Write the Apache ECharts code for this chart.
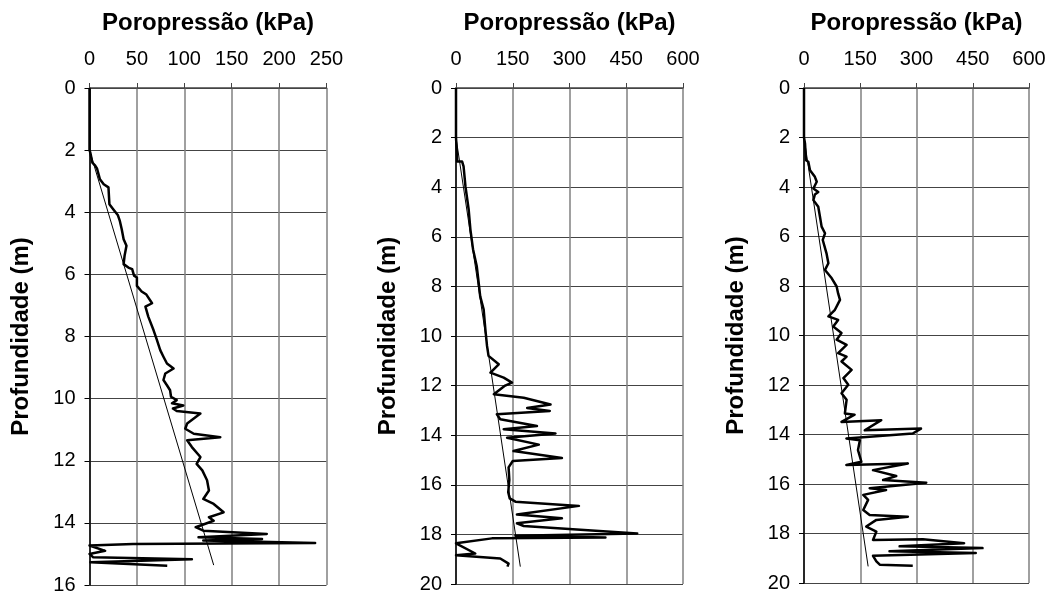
<!DOCTYPE html>
<html>
<head>
<meta charset="utf-8">
<script src="https://cdn.jsdelivr.net/npm/echarts@6/dist/echarts.min.js"></script>
<style>
html,body{margin:0;padding:0;background:#fff;}
#chart{width:1051px;height:597px;}
</style>
</head>
<body>
<div id="chart"></div>
<script>
// ---- Panel 1 (0-250 kPa, 0-16 m) ----
const p1Pressure = [0,0,1,3,6,8,11,15,20,21,25,30,32,34,36,39,37,36,41,45,47,50,50,55,60,66,59,62,67.6,71,74.6,78,81.7,88.7,80,78,81.7,85,86,92,87,99,88,92,117,103,101,110,138,103,108,117,113,119,124,126,120,131,141.5,126,131,112,120,187,115,182,120,238,46,0,16.5,0,4,108,1,82];
const p1Depth    = [0,2.0,2.1,2.4,2.5,2.6,2.94,3.1,3.2,3.74,3.9,4.1,4.28,4.55,4.87,5.08,5.4,5.67,5.78,5.83,6.04,6.1,6.37,6.55,6.65,6.93,7.04,7.36,7.8,8.1,8.44,8.65,8.87,9.03,9.19,9.4,9.57,9.73,9.94,10.05,10.15,10.22,10.32,10.4,10.48,10.8,10.97,11.13,11.24,11.34,11.56,11.88,12.1,12.31,12.63,12.96,13.23,13.39,13.66,13.82,13.93,14.14,14.25,14.36,14.46,14.52,14.57,14.65,14.68,14.73,14.9,15.0,15.11,15.17,15.27,15.38];
const p1HydroPressure = [0,131];
const p1HydroDepth    = [2,15.36];

// ---- Panel 2 (0-600 kPa, 0-20 m) ----
const p2Pressure = [0,0,2,3,16,20,25,33.5,38,45,55,60,64,73,77.6,82,86,113,91,126,148,130,100,179,250,188,248,108,117,214,126,263,135,219,152,280,150,139,141,138,142,157,325,161,280,161,179,479,157,395,95,0,51,0,117,139,136];
const p2Depth    = [0,2,2.5,2.96,2.96,3.16,3.97,4.9,5.7,6.5,7.2,7.86,8.4,8.92,9.73,10.4,10.8,11.14,11.48,11.68,11.88,12.0,12.35,12.49,12.76,12.9,13.02,13.16,13.36,13.63,13.76,13.93,14.1,14.38,14.64,14.92,15.04,15.3,15.8,16.3,16.55,16.68,16.85,17.2,17.35,17.55,17.66,17.96,18.05,18.12,18.16,18.36,18.77,18.84,18.97,19.18,19.3];
const p2HydroPressure = [0,170];
const p2HydroDepth    = [2,19.3];

// ---- Panel 3 (0-600 kPa, 0-20 m) ----
const p3Pressure = [0,0,2.7,5.3,11.5,16,29,34,25,38,29,25,38,42.6,47,56,50,60,65,56,74,87,91,96,82.5,65,91,78,100,87,113.6,91,113.6,100,127,105,118,100,113.6,118,109,135,100,206,162,312,290,113,149,144,153,113,277,184,246,211,326,175,219,158,171,158,175,277,193,166,193,184,317,427,255,476,228,458,184,193,202,290];
const p3Depth    = [0,2,2.24,2.92,2.98,3.32,3.59,3.79,4.06,4.2,4.3,4.53,4.8,5.2,5.6,5.87,6.14,6.68,7.08,7.35,7.69,8.02,8.3,8.56,8.96,9.23,9.37,9.64,9.9,10.17,10.38,10.71,10.85,11.05,11.39,11.72,11.99,12.33,12.6,12.62,13.15,13.2,13.49,13.42,13.83,13.76,13.96,14.16,14.23,14.63,15.1,15.23,15.17,15.44,15.68,15.84,15.95,16.17,16.24,16.44,16.64,17.05,17.25,17.32,17.45,17.72,17.92,18.26,18.23,18.39,18.52,18.59,18.72,18.79,18.9,19.13,19.26,19.3];
const p3HydroPressure = [0,171];
const p3HydroDepth    = [2,19.33];

const xTitle = 'Poropressão (kPa)';
const yTitle = 'Profundidade (m)';

function pairs(xs, ys){ return xs.map((v,i)=>[v, ys[i]]); }

const FONT = '"Liberation Sans", Arial, sans-serif';

const panels = [
  {left:89.5, top:88, width:237, height:497, xmax:250, xint:50, ymax:16,
   meas:pairs(p1Pressure,p1Depth), hydro:pairs(p1HydroPressure,p1HydroDepth)},
  {left:456, top:88, width:227, height:496, xmax:600, xint:150, ymax:20,
   meas:pairs(p2Pressure,p2Depth), hydro:pairs(p2HydroPressure,p2HydroDepth)},
  {left:804, top:88, width:225, height:495, xmax:600, xint:150, ymax:20,
   meas:pairs(p3Pressure,p3Depth), hydro:pairs(p3HydroPressure,p3HydroDepth)}
];

const grid=[], xAxis=[], yAxis=[], series=[];
panels.forEach((p,i)=>{
  grid.push({left:p.left, top:p.top, width:p.width, height:p.height, containLabel:false});
  xAxis.push({
    type:'value', gridIndex:i, position:'top', min:0, max:p.xmax, interval:p.xint,
    name:xTitle, nameLocation:'middle', nameGap:53,
    nameTextStyle:{fontFamily:FONT, fontWeight:'bold', fontSize:24, color:'#000'},
    axisLine:{show:true, lineStyle:{color:'#444', width:1.5}},
    axisTick:{show:true, inside:false, length:5, lineStyle:{color:'#444'}},
    axisLabel:{fontFamily:FONT, fontSize:20, color:'#000', margin:19},
    splitLine:{show:true, lineStyle:{color:'#808080', width:1.5}}
  });
  yAxis.push({
    type:'value', gridIndex:i, inverse:true, min:0, max:p.ymax, interval:2,
    name:yTitle, nameLocation:'middle', nameGap:56,
    nameTextStyle:{fontFamily:FONT, fontWeight:'bold', fontSize:24, color:'#000'},
    axisLine:{show:true, lineStyle:{color:'#000', width:1.5}},
    axisTick:{show:true, inside:false, length:5, lineStyle:{color:'#000'}},
    axisLabel:{fontFamily:FONT, fontSize:20, color:'#000', margin:14},
    splitLine:{show:true, lineStyle:{color:'#444', width:1.2}}
  });
  series.push({
    type:'line', xAxisIndex:i, yAxisIndex:i, data:p.hydro, showSymbol:false,
    lineStyle:{color:'#000', width:1}, silent:true, animation:false
  });
  series.push({
    type:'line', xAxisIndex:i, yAxisIndex:i, data:p.meas, showSymbol:false,
    lineStyle:{color:'#000', width:2.5, join:'round'}, silent:true, animation:false
  });
});

const chart = echarts.init(document.getElementById('chart'), null, {renderer:'canvas'});
chart.setOption({backgroundColor:'#fff', animation:false, grid, xAxis, yAxis, series});
</script>
</body>
</html>
